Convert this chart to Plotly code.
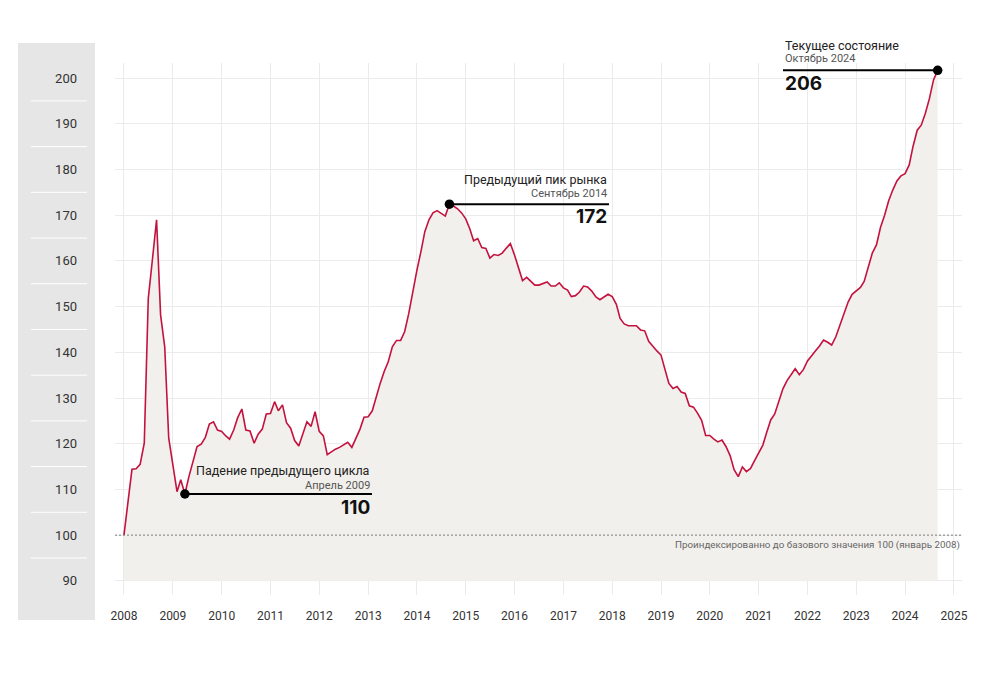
import plotly.graph_objects as go
import pandas as pd

# ---------------- data ----------------
start_month = "2008-01-01"
index_values = [
    100.0, 107.5, 114.4, 114.5, 115.5, 120.1, 151.8, 160.3, 169.0, 148.2, 141.2, 121.2,
    115.5, 109.5, 112.1, 109.0, 112.8, 116.5, 119.4, 119.9, 121.4, 124.3, 124.8, 123.0,
    122.7, 121.7, 121.0, 123.0, 125.7, 127.6, 123.0, 122.8, 120.1, 122.1, 123.2, 126.5,
    126.6, 129.2, 127.2, 128.5, 124.6, 123.4, 120.7, 119.5, 122.3, 124.8, 123.8, 127.0,
    122.7, 121.7, 117.6, 118.3, 118.8, 119.2, 119.7, 120.3, 119.2, 121.0, 123.2, 125.8,
    125.9, 127.2, 130.3, 133.2, 135.8, 138.0, 141.2, 142.6, 142.6, 144.5, 148.5, 153.6,
    158.0, 162.2, 166.4, 169.0, 170.5, 171.0, 170.4, 169.8, 172.4, 172.0, 171.4, 170.5,
    169.2, 167.0, 164.4, 164.9, 162.9, 162.7, 160.6, 161.4, 161.2, 161.7, 162.8, 163.8,
    161.3, 158.4, 155.7, 156.4, 155.5, 154.7, 154.7, 155.1, 155.4, 154.5, 154.5, 155.2,
    154.1, 153.6, 152.2, 152.4, 153.2, 154.5, 154.3, 153.4, 152.1, 151.5, 152.1, 152.7,
    152.2, 150.5, 147.4, 146.2, 145.8, 145.8, 145.8, 144.9, 144.7, 142.4, 141.2, 140.3,
    139.4, 136.1, 133.2, 132.1, 132.5, 131.3, 131.0, 128.3, 128.0, 126.7, 125.1, 121.8,
    121.8, 121.0, 120.4, 120.8, 119.4, 117.4, 114.3, 112.8, 114.9, 113.9, 114.6, 116.3,
    117.9, 119.7, 122.4, 125.2, 126.5, 129.2, 132.0, 133.8, 135.1, 136.4, 135.1, 136.2,
    138.1, 139.4, 140.3, 141.4, 142.7, 142.2, 141.6, 143.4, 146.0, 148.7, 151.0, 152.7,
    153.5, 154.2, 155.5, 158.4, 161.7, 163.5, 167.3, 170.0, 173.2, 175.5, 177.5, 178.6,
    179.1, 181.0, 185.1, 188.6, 189.7, 192.3, 195.5, 199.6, 201.7,
]
y_ticks = [90, 100, 110, 120, 130, 140, 150, 160, 170, 180, 190, 200]
x_tick_years = list(range(2008, 2026))

callout_indices = [15, 80, 200]
callout_titles = ["Падение предыдущего цикла", "Предыдущий пик рынка", "Текущее состояние"]
callout_months = ["Апрель 2009", "Сентябрь 2014", "Октябрь 2024"]
callout_numbers = ["110", "172", "206"]
baseline_value = 100
fill_floor = 90
note_text = "Проиндексированно до базового значения 100 (январь 2008)"

# ---------------- styling / layout helpers ----------------
PAGE_OFF = 8            # default body margin of the html page
W, H = 1000, 675
PL, PR, PT, PB = 115, 962, 63, 595          # plot area in screen pixels
ML = PL - PAGE_OFF
MT = PT - PAGE_OFF
PW, PH = PR - PL, PB - PT
MR = W - ML - PW
MB = H - MT - PH
LINE_COLOR = "#c4123f"
FILL_COLOR = "#f2f0ec"
GRID_COLOR = "#ebebeb"
FONT = "Roboto, Inter, Arial, sans-serif"
NUM_FONT = "Inter, Roboto, Arial, sans-serif"


def px_x(px):
    return (px - PL) / PW


def px_y(py):
    return (PB - py) / PH


dates = pd.date_range(start_month, periods=len(index_values), freq="MS")

fig = go.Figure()
fig.add_trace(go.Scatter(x=dates, y=[fill_floor] * len(dates), mode="lines",
                         line=dict(width=0), hoverinfo="skip", showlegend=False))
fig.add_trace(go.Scatter(x=dates, y=index_values, mode="lines", fill="tonexty",
                         fillcolor=FILL_COLOR, line=dict(color=LINE_COLOR, width=1.6),
                         showlegend=False))
fig.add_trace(go.Scatter(x=[dates[i] for i in callout_indices],
                         y=[index_values[i] for i in callout_indices],
                         mode="markers", marker=dict(color="#000", size=9.5),
                         showlegend=False, cliponaxis=False))

shapes = []
# grey label panel on the left
shapes.append(dict(type="rect", xref="paper", yref="paper", x0=px_x(18), x1=px_x(95),
                   y0=px_y(620), y1=px_y(43), fillcolor="#e6e6e6", line=dict(width=0),
                   layer="below"))
for t in y_ticks[:-1]:
    shapes.append(dict(type="line", xref="paper", yref="y", x0=px_x(31), x1=px_x(87),
                       y0=t + 5, y1=t + 5, line=dict(color="#ffffff", width=1),
                       layer="below"))
# baseline dashed line
shapes.append(dict(type="line", xref="paper", yref="y", x0=0, x1=1,
                   y0=baseline_value, y1=baseline_value,
                   line=dict(color="#7a7a7a", width=1, dash="2px,2px")))

# callouts: (line end pixel x, text anchor, title y, sub y, number y)
callout_layout = [
    (372, "right", 470, 485, 507),
    (609, "right", 179, 193, 216),
    (783, "left", 45, 59, 83),
]
annotations = []
for i, (end_px, anchor, ty, sy, ny), title, month, num in zip(
        callout_indices, callout_layout, callout_titles, callout_months, callout_numbers):
    xd = dates[i]
    end_date = pd.Timestamp("2008-01-01") + pd.Timedelta(days=(end_px - 124) / (830 / 6210))
    shapes.append(dict(type="line", xref="x", yref="y", x0=xd, x1=end_date,
                       y0=index_values[i], y1=index_values[i],
                       line=dict(color="#000", width=2), layer="above"))
    for txt, py, size, color, fam, bold in [(title, ty, 12.5, "#222", FONT, False),
                                            (month, sy, 11, "#555", FONT, False),
                                            (num, ny, 19, "#111", NUM_FONT, True)]:
        annotations.append(dict(
            xref="paper", yref="paper", x=px_x(end_px), y=px_y(py),
            xanchor=anchor, yanchor="middle", showarrow=False,
            text=f"<b>{txt}</b>" if bold else txt,
            font=dict(family=fam, size=size, color=color)))

annotations.append(dict(xref="paper", yref="paper", x=1, y=px_y(545), xanchor="right",
                        yanchor="middle", showarrow=False, text=note_text,
                        font=dict(family=FONT, size=9.8, color="#666")))

fig.update_layout(
    width=W, height=H,
    margin=dict(l=ML, r=MR, t=MT, b=MB),
    paper_bgcolor="#ffffff", plot_bgcolor="#ffffff",
    font=dict(family=FONT, color="#333"),
    shapes=shapes, annotations=annotations,
    xaxis=dict(type="date", range=["2007-10-26", "2025-03-02"],
               tickvals=[f"{y}-01-01" for y in x_tick_years],
               ticktext=[str(y) for y in x_tick_years],
               showgrid=True, gridcolor=GRID_COLOR, gridwidth=1,
               zeroline=False, showline=False, ticks="",
               tickfont=dict(size=12, color="#333"), ticklabelstandoff=12),
    yaxis=dict(range=[86.9, 203.3], tickvals=y_ticks,
               showgrid=True, gridcolor=GRID_COLOR, gridwidth=1,
               zeroline=False, showline=False, ticks="",
               tickfont=dict(size=13, color="#333"), ticklabelstandoff=37),
    hovermode=False,
)

fig.write_html("out.html")
